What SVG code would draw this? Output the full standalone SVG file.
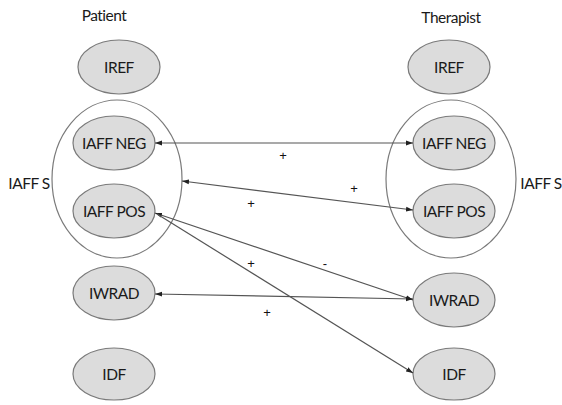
<svg xmlns="http://www.w3.org/2000/svg" width="562" height="405" viewBox="0 0 562 405">
<style>
.n{fill:#dcdcdc;stroke:#7a7a7a;stroke-width:1.2}
.g{fill:none;stroke:#7a7a7a;stroke-width:1.2}
.t{font-family:Lato,"Open Sans","Liberation Sans",sans-serif;font-size:15.5px;fill:#1a1a1a;text-anchor:middle;letter-spacing:-0.5px}
.c{fill:none;stroke:#555;stroke-width:1.2}
.s{font-family:"Liberation Sans",sans-serif;font-size:13px;fill:#111;text-anchor:middle}
</style>
<defs>
<marker id="ah" viewBox="0 0 10 10" refX="10" refY="5" markerWidth="7" markerHeight="7" orient="auto-start-reverse" markerUnits="userSpaceOnUse">
<path d="M0,1.5 L10,5 L0,8.5 Z" fill="#222"/>
</marker>
</defs>
<rect width="562" height="405" fill="#fff"/>
<text class="t" x="104" y="21">Patient</text>
<text class="t" x="451" y="23">Therapist</text>
<g id="patient-group"><ellipse class="g" cx="117" cy="179" rx="65" ry="79"/><text class="t" x="29" y="189">IAFF S</text></g>
<g id="therapist-group"><ellipse class="g" cx="451" cy="179" rx="65" ry="79"/><text class="t" x="541" y="189">IAFF S</text></g>
<g id="p-iref"><ellipse class="n" cx="119" cy="67" rx="41" ry="27"/><text class="t" x="119" y="73">IREF</text></g>
<g id="p-iaffneg"><ellipse class="n" cx="114" cy="143" rx="41" ry="27"/><text class="t" x="114" y="149">IAFF NEG</text></g>
<g id="p-iaffpos"><ellipse class="n" cx="114" cy="211" rx="41" ry="27"/><text class="t" x="114" y="217">IAFF POS</text></g>
<g id="p-iwrad"><ellipse class="n" cx="114" cy="293" rx="41" ry="27"/><text class="t" x="114" y="299">IWRAD</text></g>
<g id="p-idf"><ellipse class="n" cx="114" cy="374" rx="41" ry="26"/><text class="t" x="114" y="380">IDF</text></g>
<g id="t-iref"><ellipse class="n" cx="449" cy="67" rx="41" ry="27"/><text class="t" x="449" y="73">IREF</text></g>
<g id="t-iaffneg"><ellipse class="n" cx="454" cy="143" rx="41" ry="27"/><text class="t" x="454" y="149">IAFF NEG</text></g>
<g id="t-iaffpos"><ellipse class="n" cx="454" cy="211" rx="41" ry="27"/><text class="t" x="454" y="217">IAFF POS</text></g>
<g id="t-iwrad"><ellipse class="n" cx="454" cy="300" rx="41" ry="27"/><text class="t" x="454" y="306">IWRAD</text></g>
<g id="t-idf"><ellipse class="n" cx="454" cy="374" rx="41" ry="26"/><text class="t" x="454" y="380">IDF</text></g>
<g id="connectors">
<line class="c" x1="155" y1="143" x2="413" y2="143" marker-start="url(#ah)" marker-end="url(#ah)"/>
<line class="c" x1="182" y1="181" x2="413" y2="210" marker-start="url(#ah)" marker-end="url(#ah)"/>
<line class="c" x1="155" y1="213" x2="413" y2="300" marker-start="url(#ah)" marker-end="url(#ah)"/>
<line class="c" x1="155" y1="294" x2="413" y2="299" marker-start="url(#ah)" marker-end="url(#ah)"/>
<line class="c" x1="157" y1="214" x2="413" y2="373" marker-end="url(#ah)"/>
</g>
<g id="labels">
<text class="s" x="283" y="160">+</text>
<text class="s" x="354" y="193">+</text>
<text class="s" x="251" y="208">+</text>
<text class="s" x="251" y="268">+</text>
<text class="s" x="325" y="268">-</text>
<text class="s" x="267" y="317">+</text>
</g>
</svg>
